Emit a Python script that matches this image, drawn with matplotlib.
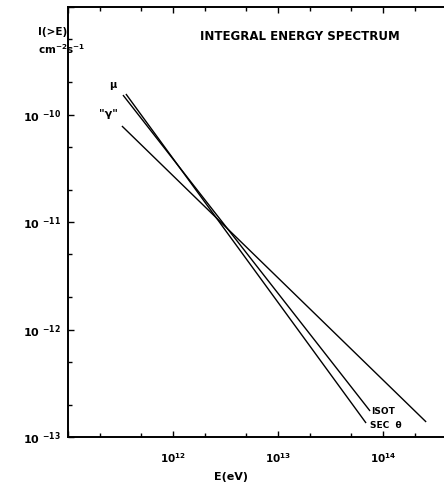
#!/usr/bin/env python3
# -*- coding: utf-8 -*-

import numpy as np
import matplotlib
matplotlib.use("Agg")
import matplotlib.pyplot as plt
from matplotlib.ticker import FixedLocator, FuncFormatter, NullFormatter

# end points of the three power-law lines
E_isot = [10**11.524, 10**13.876]
I_isot = [10**-9.819, 10**-12.758]
E_sec = [10**11.552, 10**13.838]
I_sec = [10**-9.809, 10**-12.870]
E_gam = [10**11.514, 10**14.410]
I_gam = [10**-10.107, 10**-12.860]

x_major = [1e11, 1e12, 1e13, 1e14]
y_major = [1e-13, 1e-12, 1e-11, 1e-10, 1e-9]
minor_mult = [2, 5]

plt.rcParams['font.family'] = ['DejaVu Sans']

fig = plt.figure(figsize=(4.44, 4.86), dpi=100)
ax = fig.add_axes([0.153, 0.1008, 0.847, 0.8848])

for E, I in [(E_isot, I_isot), (E_sec, I_sec), (E_gam, I_gam)]:
    ax.plot(E, I, color='black', lw=1.0, solid_capstyle='butt')

ax.set_xscale('log')
ax.set_yscale('log')
ax.set_xlim(1e11, 10**14.58)
ax.set_ylim(1e-13, 1e-9)

ax.xaxis.set_major_locator(FixedLocator(x_major))
ax.yaxis.set_major_locator(FixedLocator(y_major))
ax.xaxis.set_minor_locator(FixedLocator([m * v for v in x_major for m in minor_mult]))
ax.yaxis.set_minor_locator(FixedLocator([m * v for v in y_major[:-1] for m in minor_mult]))

def xfmt(v, pos):
    if v < 5e11:
        return ""
    return r"10$^{\mathbf{%d}}$" % round(np.log10(v))

def yfmt(v, pos):
    if v > 5e-10:
        return ""
    return r"10 $^{\mathbf{%d}}$" % round(np.log10(v))

ax.xaxis.set_major_formatter(FuncFormatter(xfmt))
ax.yaxis.set_major_formatter(FuncFormatter(yfmt))
ax.xaxis.set_minor_formatter(NullFormatter())
ax.yaxis.set_minor_formatter(NullFormatter())

ax.tick_params(which='both', direction='in', top=True, right=False, width=1.0)
ax.tick_params(which='major', length=4)
ax.tick_params(which='minor', length=3)
ax.tick_params(axis='x', labelsize=7.5, pad=10)
ax.tick_params(axis='y', labelsize=8, pad=5)
for lab in ax.get_xticklabels() + ax.get_yticklabels():
    lab.set_fontweight('bold')

for side in ['left', 'bottom', 'top']:
    ax.spines[side].set_linewidth(1.4)
ax.spines['right'].set_visible(False)

fig.text(300 / 444, 1 - 37 / 486, "INTEGRAL ENERGY SPECTRUM",
         fontsize=8.5, fontweight='bold', ha='center', va='center')

# axis titles
fig.text(38 / 444, 1 - 32 / 486, "I(>E)", fontsize=7.5, fontweight='bold',
         ha='left', va='center')
fig.text(38 / 444, 1 - 49 / 486, r"cm$^{\mathbf{-2}}$s$^{\mathbf{-1}}$",
         fontsize=7.5, fontweight='bold', ha='left', va='center')
fig.text(231 / 444, 1 - 477 / 486, "E(eV)", fontsize=8, fontweight='bold',
         ha='center', va='center')

# line labels
ax.text(E_isot[0] * 0.8, I_isot[0] * 1.25, "μ", fontsize=7, fontweight='bold',
        ha='center', va='center')
ax.text(E_gam[0] * 0.74, I_gam[0] * 1.3, '"γ"', fontsize=8, fontweight='bold',
        ha='center', va='center')
ax.text(E_isot[1] * 1.03, I_isot[1] * 0.98, "ISOT", fontsize=6.5, fontweight='bold',
        ha='left', va='center')
ax.text(E_sec[1] * 1.09, I_sec[1] * 0.95, "SEC  θ", fontsize=6.5, fontweight='bold',
        ha='left', va='center')

fig.savefig("out.png", dpi=100)
